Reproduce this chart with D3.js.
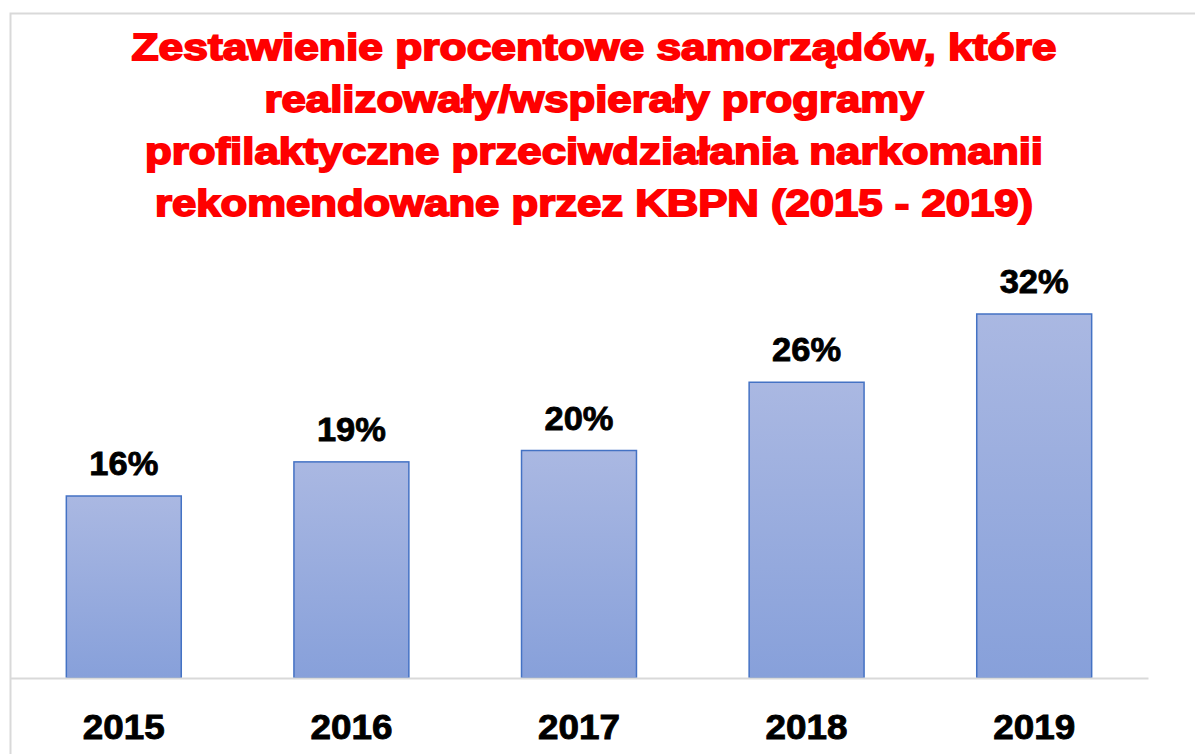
<html>
    <head>
        <style>
            body { margin: 0; background-color: white; }
            svg { display: block; }
        </style>
    </head>
    <body>
        <script src="https://cdn.jsdelivr.net/npm/d3@7"></script>
        <script>
            const years = ["2015", "2016", "2017", "2018", "2019"];
            const shares = [16, 19, 20, 26, 32];
            const titleLines = [
                "Zestawienie procentowe samorządów, które",
                "realizowały/wspierały programy",
                "profilaktyczne przeciwdziałania narkomanii",
                "rekomendowane przez KBPN (2015 - 2019)"
            ];
            const titleWidths = [927, 661, 900, 880];

            const W = 1195, H = 754;
            const svg = d3.select("body").append("svg").attr("width", W).attr("height", H);

            // chart frame
            svg.append("rect")
                .attr("x", 10.5).attr("y", 13.5)
                .attr("width", 1300).attr("height", 900)
                .attr("fill", "none").attr("stroke", "#d9d9d9").attr("stroke-width", 2);

            const grad = svg.append("defs").append("linearGradient")
                .attr("id", "barfill").attr("x1", 0).attr("y1", 0).attr("x2", 0).attr("y2", 1);
            grad.append("stop").attr("offset", 0).attr("stop-color", "#aab8e2");
            grad.append("stop").attr("offset", 1).attr("stop-color", "#87a0da");

            // title
            svg.append("g").selectAll("text").data(titleLines).join("text")
                .attr("x", 594)
                .attr("y", (d, i) => 60 + i * 52)
                .attr("text-anchor", "middle")
                .attr("font-family", "'Liberation Sans', Arial, sans-serif")
                .attr("font-weight", "bold")
                .attr("font-size", 37)
                .attr("fill", "#ff0000")
                .attr("stroke", "#ff0000")
                .attr("stroke-width", 1.8)
                .attr("textLength", (d, i) => titleWidths[i] - 2)
                .attr("lengthAdjust", "spacingAndGlyphs")
                .text(d => d);

            const x = d3.scaleBand().domain(years).range([10, 1148]).paddingInner(0.495).paddingOuter(0.2475);
            const y = d3.scaleLinear().domain([0, 32]).range([678, 314]);

            svg.append("g").selectAll("rect").data(shares).join("rect")
                .attr("x", (d, i) => x(years[i]))
                .attr("y", d => y(d))
                .attr("width", x.bandwidth())
                .attr("height", d => y(0) - y(d))
                .attr("fill", "url(#barfill)")
                .attr("stroke", "#4472c4")
                .attr("stroke-width", 1.5);

            // baseline axis
            const xAxis = svg.append("g")
                .attr("transform", "translate(0," + y(0) + ")")
                .call(d3.axisBottom(x).tickSize(0).tickPadding(0));
            xAxis.select(".domain").attr("stroke", "#d9d9d9").attr("stroke-width", 2);
            xAxis.selectAll(".tick text")
                .attr("dy", 0)
                .attr("y", 61)
                .attr("font-family", "'Liberation Sans', Arial, sans-serif")
                .attr("font-weight", "bold")
                .attr("font-size", 35)
                .attr("fill", "#000")
                .attr("stroke", "#000")
                .attr("stroke-width", 0.9)
                .attr("textLength", 82)
                .attr("lengthAdjust", "spacingAndGlyphs");

            svg.append("g").selectAll("text").data(shares).join("text")
                .attr("x", (d, i) => x(years[i]) + x.bandwidth() / 2)
                .attr("y", d => y(d) - 21)
                .attr("text-anchor", "middle")
                .attr("font-family", "'Liberation Sans', Arial, sans-serif")
                .attr("font-weight", "bold")
                .attr("font-size", 33)
                .attr("fill", "#000")
                .attr("stroke", "#000")
                .attr("stroke-width", 0.8)
                .attr("textLength", 69)
                .attr("lengthAdjust", "spacingAndGlyphs")
                .text(d => d + "%");
        </script>
    </body>
</html>
